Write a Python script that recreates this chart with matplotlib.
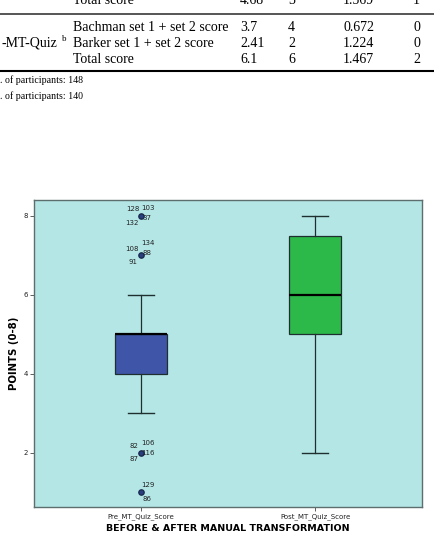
import matplotlib
matplotlib.use("Agg")
import matplotlib.pyplot as plt

# table fragment above the chart
row_labels = ["Total score", "Bachman set 1 + set 2 score", "Barker set 1 + set 2 score", "Total score"]
row_mean = ["4.68", "3.7", "2.41", "6.1"]
row_median = ["3", "4", "2", "6"]
row_sd = ["1.569", "0.672", "1.224", "1.467"]
row_last = ["1", "0", "0", "2"]
group_label = "-MT-Quiz"
footnotes = [". of participants: 148", ". of participants: 140"]

# box plot data
categories = ["Pre_MT_Quiz_Score", "Post_MT_Quiz_Score"]
q1 = [4, 5]
median = [5, 6]
q3 = [5, 7.5]
whislo = [3, 2]
whishi = [6, 8]
outliers = [[8, 7, 2, 1], []]
outlier_ids = {
    8: ["128", "103", "37", "132"],
    7: ["134", "108", "88", "91"],
    2: ["82", "106", "116", "87"],
    1: ["129", "86"],
}
yticks = [2, 4, 6, 8]

W, H = 434, 534
fig = plt.figure(figsize=(W / 100, H / 100), dpi=100)
fig.patch.set_facecolor("white")

def px(x, y):
    return x / W, 1 - y / H

serif = "Liberation Serif"
fs = 10
baselines = [4.5, 30.7, 46.7, 62.7]
cols = [(73, row_labels), (240, row_mean), (288, row_median), (343, row_sd), (413, row_last)]
for i in range(4):
    for x, vals in cols:
        fig.text(*px(x, baselines[i]), vals[i], ha="left", va="baseline", family=serif, fontsize=fs)
fig.text(*px(57.5, baselines[2]), group_label, ha="right", va="baseline", family=serif, fontsize=fs)
fig.text(*px(61.5, baselines[2] - 5.5), "b", ha="left", va="baseline", family=serif, fontsize=6.5)
fig.add_artist(plt.Line2D([0, 1], [1 - 14 / H] * 2, color="#555555", lw=1.4))
fig.add_artist(plt.Line2D([0, 1], [1 - 71 / H] * 2, color="black", lw=1.5))
fig.text(*px(0, 83), footnotes[0], ha="left", va="baseline", family=serif, fontsize=7.1)
fig.text(*px(0, 99), footnotes[1], ha="left", va="baseline", family=serif, fontsize=7.1)

# chart axes
ax_l, ax_r, ax_t, ax_b = 34, 422, 200, 507
ax = fig.add_axes([ax_l / W, 1 - ax_b / H, (ax_r - ax_l) / W, (ax_b - ax_t) / H])
ax.set_facecolor("#b4e6e6")

stats = []
for i in range(len(categories)):
    stats.append(dict(label=categories[i], q1=q1[i], med=median[i], q3=q3[i],
                      whislo=whislo[i], whishi=whishi[i], fliers=outliers[i]))

box_colors = ["#3f55a8", "#2db84a"]
bp = ax.bxp(stats, positions=[1, 2], widths=0.30, patch_artist=True,
            boxprops=dict(edgecolor="#1f2f2f", linewidth=0.9),
            medianprops=dict(color="black", linewidth=1.6),
            whiskerprops=dict(color="#1f2f2f", linewidth=0.9),
            capprops=dict(color="#1f2f2f", linewidth=1.0),
            flierprops=dict(marker="o", markerfacecolor="#2a3f80", markeredgecolor="#1a2a50",
                            markersize=3.8, linestyle="none"))
for patch, c in zip(bp["boxes"], box_colors):
    patch.set_facecolor(c)

# outlier case labels (offsets in pixels from the point)
offsets = {
    8: [(-8, 6.5), (7.5, 8), (6, -2.5), (-9, -7)],
    7: [(7.5, 12), (-9, 6), (6, 2.5), (-7.5, -7)],
    2: [(-7, 6.5), (7.5, 9.5), (7.5, 0), (-7, -6.5)],
    1: [(7.5, 7.5), (6, -6.5)],
}
for val, ids in outlier_ids.items():
    for lab, off in zip(ids, offsets[val]):
        ax.annotate(lab, (1, val), xytext=off, textcoords="offset pixels",
                    ha="center", va="center", fontsize=5, color="#222222")

ax.set_xlim(0.388, 2.612)
ax.set_ylim(0.63, 8.4)
ax.set_yticks(yticks)
ax.set_yticklabels([str(t) for t in yticks])
ax.set_xticks([1, 2])
ax.set_xticklabels(categories)
ax.tick_params(axis="both", labelsize=5, length=3, width=0.6, color="#444444",
               labelcolor="#222222", pad=1.5)
for s in ax.spines.values():
    s.set_color("#5c6e6e")
    s.set_linewidth(1.0)

ax.set_ylabel("POINTS (0-8)", fontsize=7.3, fontweight="bold", labelpad=3)
ax.set_xlabel("BEFORE & AFTER MANUAL TRANSFORMATION", fontsize=6.8, fontweight="bold", labelpad=3)

fig.savefig("out.png", dpi=100)
